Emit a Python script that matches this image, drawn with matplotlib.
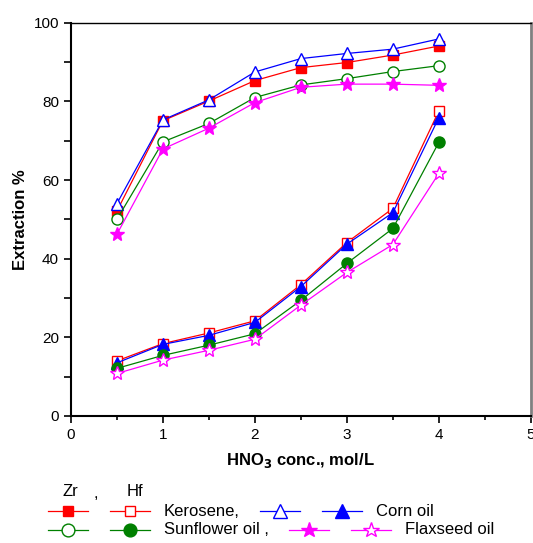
import matplotlib.pyplot as plt
from matplotlib.lines import Line2D
from matplotlib.ticker import MultipleLocator

plt.rcParams['font.family'] = ['Liberation Sans', 'DejaVu Sans']

# HNO3 concentration, mol/L
conc = [0.5, 1.0, 1.5, 2.0, 2.5, 3.0, 3.5, 4.0]

# extraction %, Zr
zr_kerosene = [52.1, 75.1, 80.1, 85.3, 88.6, 89.9, 91.8, 94.1]
zr_corn = [54.0, 75.3, 80.4, 87.5, 90.9, 92.2, 93.3, 95.9]
zr_sunflower = [50.0, 69.7, 74.4, 81.0, 84.2, 85.8, 87.6, 89.1]
zr_flaxseed = [46.2, 67.9, 73.2, 79.7, 83.6, 84.4, 84.4, 84.1]

# extraction %, Hf
hf_kerosene = [14.0, 18.4, 21.1, 24.2, 33.4, 44.1, 52.8, 77.6]
hf_corn = [13.5, 18.2, 20.5, 23.8, 32.9, 43.7, 51.7, 75.9]
hf_sunflower = [12.1, 15.4, 18.0, 20.9, 29.4, 38.8, 47.7, 69.6]
hf_flaxseed = [10.8, 14.2, 16.7, 19.5, 28.2, 36.5, 43.6, 61.7]

RED, BLUE, GREEN, MAG = '#ff0000', '#0000ff', '#008000', '#ff00ff'

# (values, colour, marker, size, filled)
series = [
    (zr_kerosene, RED, 's', 6.5, True),
    (hf_kerosene, RED, 's', 6.5, False),
    (zr_corn, BLUE, '^', 9, False),
    (hf_corn, BLUE, '^', 9, True),
    (zr_sunflower, GREEN, 'o', 8, False),
    (hf_sunflower, GREEN, 'o', 8, True),
    (zr_flaxseed, MAG, '*', 10, True),
    (hf_flaxseed, MAG, '*', 10, False),
]

fig = plt.figure(figsize=(5.33, 5.43), dpi=100)
ax = fig.add_axes([0.133, 0.234, 0.863, 0.724])

for vals, col, mk, ms, filled in series:
    ax.plot(conc, vals, color=col, lw=0.9, marker=mk, ms=ms,
            mfc=col if filled else 'white', mec=col, mew=1.0)

ax.set_xlim(0, 5)
ax.set_ylim(0, 100)
ax.xaxis.set_major_locator(MultipleLocator(1))
ax.xaxis.set_minor_locator(MultipleLocator(0.5))
ax.yaxis.set_major_locator(MultipleLocator(20))
ax.yaxis.set_minor_locator(MultipleLocator(10))
ax.tick_params(which='major', direction='out', length=5, width=1.2, labelsize=11)
ax.tick_params(which='minor', direction='out', length=3, width=1.2)
ax.tick_params(axis='y', which='minor', length=5)
ax.tick_params(axis='x', pad=4)

for s in ['left', 'bottom']:
    ax.spines[s].set_linewidth(1.5)
ax.spines['top'].set_linewidth(1.0)
ax.spines['right'].set_color('#808080')
ax.spines['right'].set_linewidth(2.0)

ax.set_ylabel('Extraction %', fontsize=12, fontweight='bold', labelpad=4)
ax.set_xlabel('HNO$_\\mathbf{3}$ conc., mol/L', fontsize=12, fontweight='bold', labelpad=6)

# hand-made legend under the axes (pixel coordinates)
lax = fig.add_axes([0, 0, 1, 1])
lax.set_xlim(0, 533)
lax.set_ylim(543, 0)
lax.axis('off')

lax.text(70, 491, 'Zr', fontsize=12, ha='center', va='center')
lax.text(96, 493, ',', fontsize=12, ha='center', va='center')
lax.text(135, 491, 'Hf', fontsize=12, ha='center', va='center')

legend_rows = [
    (511, [(48, series[0]), (110, series[1]), (260, series[2]), (322, series[3])],
     [(164, 'Kerosene,'), (376, 'Corn oil')]),
    (530, [(48, series[4]), (110, series[5]), (289, series[6]), (351, series[7])],
     [(164, 'Sunflower oil ,'), (405, 'Flaxseed oil')]),
]
for y, samples, labels in legend_rows:
    for x0, (vals, col, mk, ms, filled) in samples:
        lax.add_line(Line2D([x0, x0 + 40], [y, y], color=col, lw=0.9))
        lax.add_line(Line2D([x0 + 20], [y], color=col, marker=mk, ms=ms * 1.15,
                            mfc=col if filled else 'white', mec=col, mew=1.0))
    for x0, txt in labels:
        lax.text(x0, y, txt, fontsize=12, ha='left', va='center')

fig.savefig('out.png', dpi=100)
